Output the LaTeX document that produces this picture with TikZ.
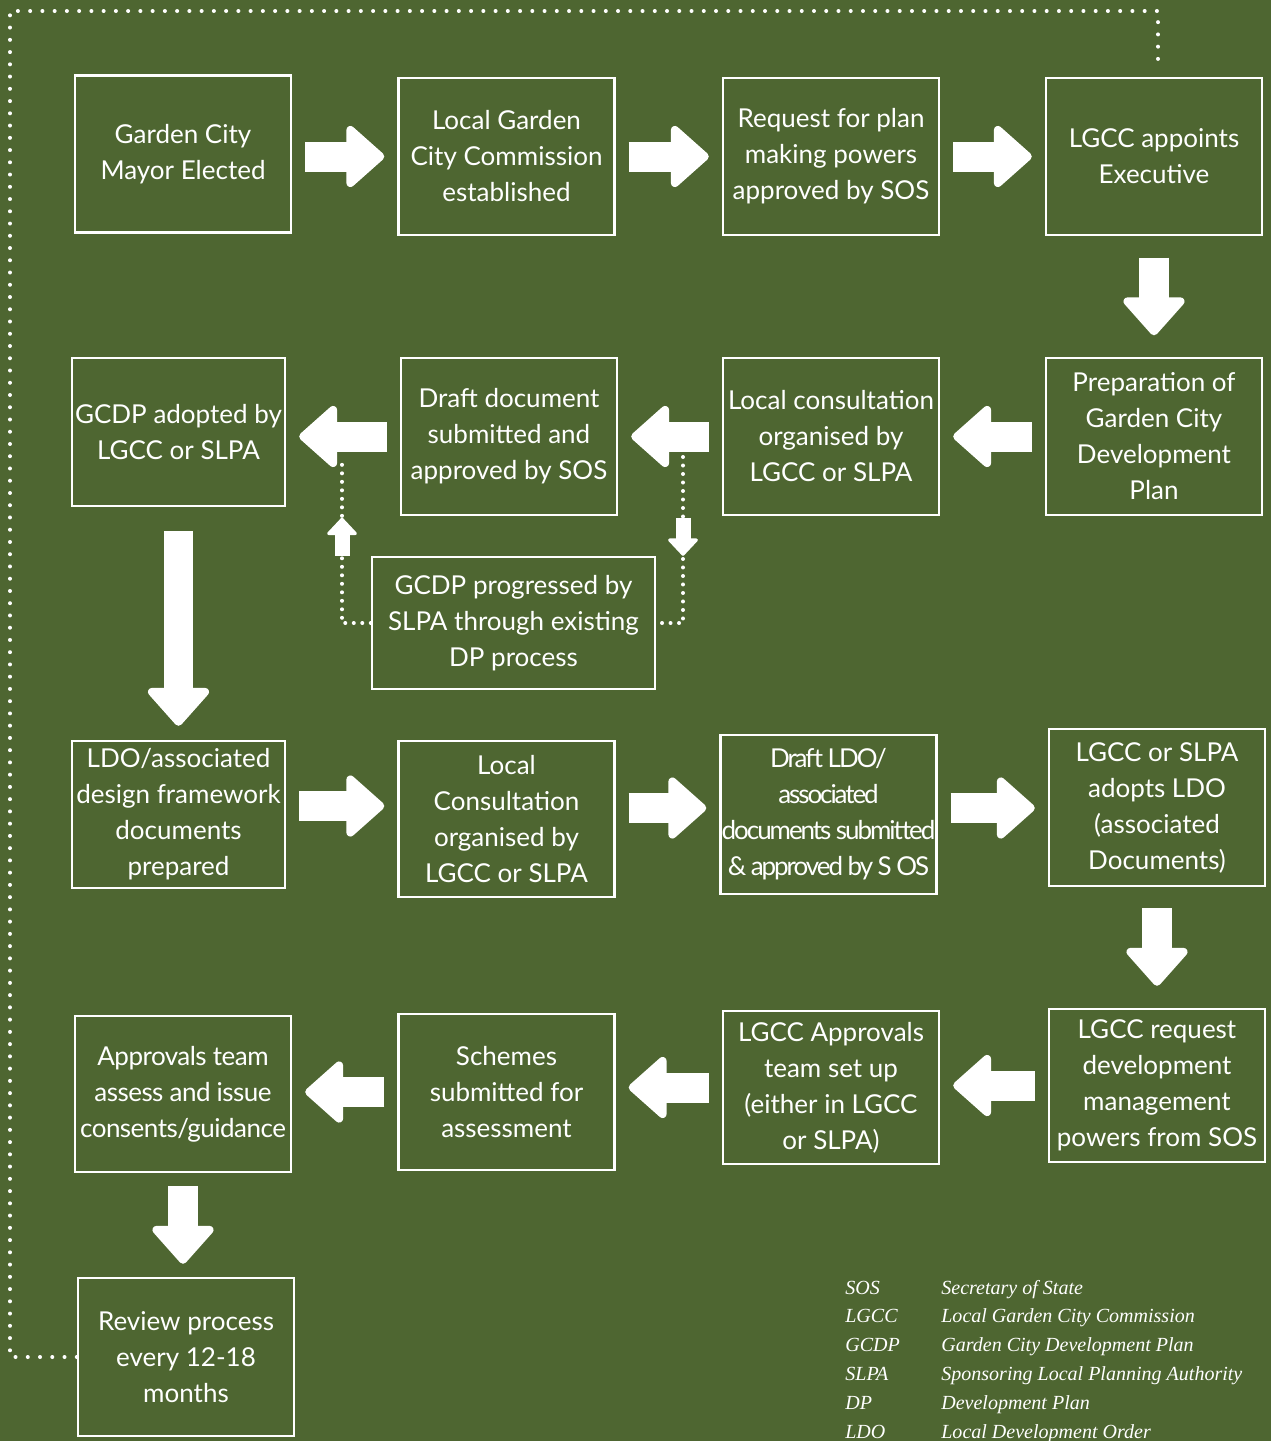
\documentclass[tikz,border=0pt]{standalone}
\usepackage{fontspec}
\setsansfont{Lato}
\newfontfamily\glossfont{Liberation Serif}
\usepackage{tikz}
\usetikzlibrary{arrows.meta,calc}
\definecolor{gcgreen}{HTML}{4E6631}

\begin{document}
\begin{tikzpicture}[x=0.02cm, y=-0.02cm,
  font=\sffamily\fontsize{14.8}{20.5}\selectfont,
  stage/.style={draw=white, line width=0.05cm, text=white, align=center, inner sep=0pt,
    minimum width=4.32cm, minimum height=3.14cm},
  tight/.style={font=\sffamily\fontsize{14.8}{20.5}\selectfont\addfontfeature{LetterSpace=#1}},
  flow/.style={draw=white, line width=0.6cm,
    -{Triangle[length=0.8cm, width=1.38cm, line width=0.16cm, round]},
    shorten <=0.26cm, shorten >=0.26cm},
  nudge/.style={draw=white, line width=0.3cm,
    -{Triangle[length=0.36cm, width=0.66cm, line width=0.06cm, round]}},
  dotline/.style={draw=white, line width=0.08cm, line cap=round, dash pattern=on 0pt off 0.17cm},
  ringline/.style={draw=white, line width=0.08cm, line cap=round, dash pattern=on 0pt off 0.245cm},
  gloss/.style={anchor=base west, text=white, inner sep=0pt,
    font=\glossfont\itshape\fontsize{11.4}{14}\selectfont}
]
\useasboundingbox (0,0) rectangle (1271,1441);
\fill[gcgreen] (0,0) rectangle (1271,1441);
% ---------- row 1: commission ----------
\node[stage] (b1) at (183,154) {Garden City\\Mayor Elected};
\node[stage] (b2) at (506.5,156.5) {Local Garden\\City Commission\\established};
\node[stage] (b3) at (831,156.5) {Request for plan\\making powers\\approved by SOS};
\node[stage] (b4) at (1154,156.5) {LGCC appoints\\Executive};
\draw[flow] (b1.east |- b2) -- (b2);
\draw[flow] (b2) -- (b3);
\draw[flow] (b3) -- (b4);
% ---------- row 2: development plan ----------
\node[stage] (b5) at (1154,436.5) {Preparation of\\Garden City\\Development\\Plan};
\node[stage] (b6) at (831,436.5) {Local consultation\\organised by\\LGCC or SLPA};
\node[stage] (b7) at (509,436.5) {Draft document\\submitted and\\approved by SOS};
\node[stage, minimum width=4.26cm, minimum height=2.96cm] (b8) at (178.5,432) {GCDP adopted by\\LGCC or SLPA};
\node[stage, minimum width=5.66cm, minimum height=2.64cm] (b9) at (513.5,623) {GCDP progressed by\\SLPA through existing\\DP process};
\draw[flow, shorten <=0.43cm, shorten >=0.43cm] (b4) -- (b5);
\draw[flow] (b5) -- (b6);
\draw[flow] (b6) -- (b7);
\draw[flow] (b7) -- (b8.east |- b7);
% SLPA route, dotted
\coordinate (j1) at (342,457);
\coordinate (j2) at (683,457);
\draw[dotline] (b9.west) -| (j1);
\draw[dotline] (j2) |- (b9.east);
\draw[nudge] (b9.north -| j1) -- ++(0,-38);
\draw[nudge] ($(b9.north -| j2)+(0,-38)$) -- (b9.north -| j2);
% ---------- row 3: local development order ----------
\node[stage, minimum width=4.26cm, minimum height=2.94cm] (b10) at (178.5,814.5) {LDO/associated\\design framework\\documents\\prepared};
\node[stage, minimum height=3.12cm] (b11) at (506.5,819) {Local\\Consultation\\organised by\\LGCC or SLPA};
\node[stage, minimum height=3.18cm, tight=-8] (b12) at (828.5,814.5) {Draft LDO/\\associated\\documents submitted\\\& approved by S OS};
\node[stage] (b13) at (1157,807.5) {LGCC or SLPA\\adopts LDO\\(associated\\Documents)};
\draw[flow, shorten <=0.48cm, shorten >=0.28cm] (b8) -- (b10);
\draw[flow] ([yshift=0.17cm]b10.east) -- ([yshift=0.17cm]b10.east -| b11.west);
\draw[flow] ([yshift=0.22cm]b11.east) -- ([yshift=0.22cm]b11.east -| b12.west);
\draw[flow] ([yshift=0.13cm]b12.east) -- ([yshift=0.13cm]b12.east -| b13.west);
% ---------- row 4: approvals ----------
\node[stage, minimum height=3.06cm] (b14) at (1157,1085.5) {LGCC request\\development\\management\\powers from SOS};
\node[stage, minimum height=3.06cm] (b15) at (831,1087.5) {LGCC Approvals\\team set up\\(either in LGCC\\or SLPA)};
\node[stage, minimum height=3.12cm] (b16) at (506.5,1092) {Schemes\\submitted for\\assessment};
\node[stage, minimum height=3.12cm, tight=-2] (b17) at (183,1094) {Approvals team\\assess and issue\\consents/guidance};
\node[stage, minimum height=3.16cm] (b18) at (186,1357) {Review process\\every 12-18\\months};
\draw[flow, shorten <=0.42cm, shorten >=0.44cm] (b13) -- (b14);
\draw[flow] (b14) -- (b15.east |- b14);
\draw[flow] (b15) -- (b16.east |- b15);
\draw[flow] (b16) -- (b17.east |- b16);
\draw[flow] (b17.south) -- (b17.south |- b18.north);
% review loops back to the start
\draw[ringline] (b18.west) -| (10,11) -| ($(b4.north)+(4,-11)$);
% ---------- abbreviations ----------
\foreach \k/\v [count=\i from 0] in {SOS/Secretary of State, LGCC/Local Garden City Commission,
  GCDP/Garden City Development Plan, SLPA/Sponsoring Local Planning Authority,
  DP/Development Plan, LDO/Local Development Order}{
  \node[gloss] (k\i) at (845,1294+28.8*\i) {\k};
  \node[gloss] (v\i) at (941,1294+28.8*\i) {\v};
}
\end{tikzpicture}
\end{document}
